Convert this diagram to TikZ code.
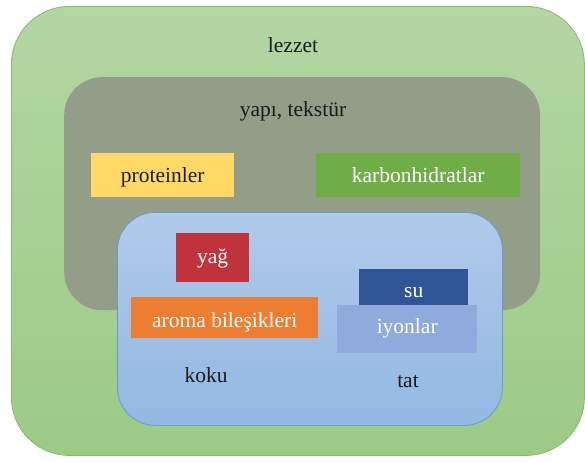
\documentclass[tikz,border=0pt]{standalone}
\usepackage{fontspec}
\setmainfont{Liberation Serif}
\definecolor{gtop}{HTML}{B3D6A3}
\definecolor{gbot}{HTML}{9CCB86}
\definecolor{gline}{HTML}{86BA6F}
\definecolor{greyfill}{HTML}{939E88}
\definecolor{btop}{HTML}{B0CAEA}
\definecolor{bbot}{HTML}{93B8E2}
\definecolor{bline}{HTML}{6A9BD2}
\definecolor{cyellow}{HTML}{FFD966}
\definecolor{cgreen}{HTML}{70AD47}
\definecolor{cred}{HTML}{C0323C}
\definecolor{corange}{HTML}{ED7D31}
\definecolor{cnavy}{HTML}{2F5597}
\definecolor{clight}{HTML}{8FAADC}
\definecolor{ink}{HTML}{1A1A1A}
\begin{document}
\begin{tikzpicture}[x=1pt,y=-1pt,
  region/.style={rectangle, inner sep=0pt, anchor=north west},
  colbox/.style={rectangle, inner sep=0pt, anchor=north west, text depth=0pt,
     font=\fontsize{21.5}{25}\selectfont, text=white},
  lbl/.style={anchor=base, inner sep=0pt, font=\fontsize{21.5}{25}\selectfont, text=ink}]
\useasboundingbox (0,0) rectangle (585,462);
% outer region
\node[region, minimum width=573pt, minimum height=449pt, rounded corners=58pt,
  top color=gtop, bottom color=gbot, draw=gline, line width=0.8pt] (lezzetbox) at (11,6) {};
\node[lbl] (lezzet) at (293,53) {lezzet};
% grey region
\node[region, minimum width=476pt, minimum height=233pt, rounded corners=38pt,
  fill=greyfill] (yapibox) at (64,77) {};
\node[lbl] (yapi) at (293,117) {yapı, tekstür};
\node[colbox, minimum width=143pt, minimum height=44pt, fill=cyellow, text=ink,
  text height=14pt] (prot) at (91,153) {proteinler};
\node[colbox, minimum width=204pt, minimum height=44pt, fill=cgreen,
  text height=14pt] (karb) at (316,153) {karbonhidratlar};
% blue region
\node[region, minimum width=385pt, minimum height=213pt, rounded corners=38pt,
  top color=btop, bottom color=bbot, draw=bline, line width=0.8pt] (kokubox) at (117,212) {};
\node[colbox, minimum width=73pt, minimum height=49pt, fill=cred,
  text height=11pt] (yag) at (176,233) {yağ};
\node[colbox, minimum width=187pt, minimum height=41pt, fill=corange,
  text height=19pt] (aroma) at (131,297) {aroma bileşikleri};
\node[colbox, minimum width=109pt, minimum height=36pt, fill=cnavy,
  text height=20pt] (su) at (359,269) {su};
\node[colbox, minimum width=140pt, minimum height=48pt, fill=clight,
  text height=8pt] (iyon) at (337,305) {iyonlar};
\node[lbl] (koku) at (206,382) {koku};
\node[lbl] (tat) at (408,387) {tat};
\end{tikzpicture}
\end{document}
